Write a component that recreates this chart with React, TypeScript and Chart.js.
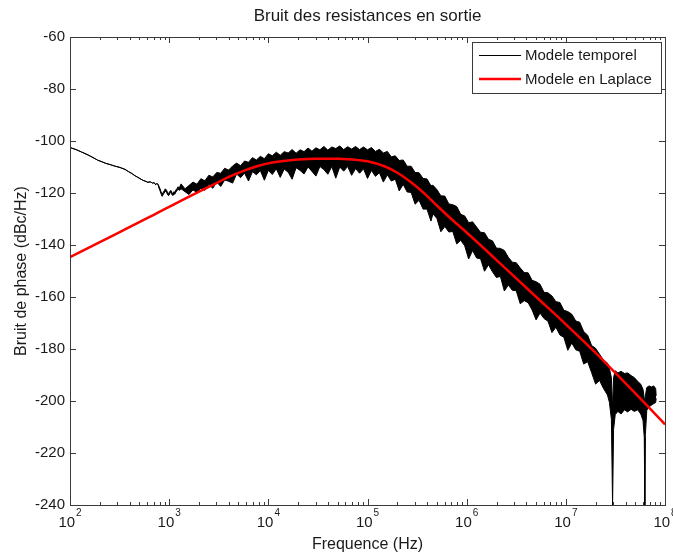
import React, { useEffect, useRef } from 'react';
import { Chart, registerables } from 'chart.js';

Chart.register(...registerables);

const FONT = '"Liberation Sans", Arial, Helvetica, sans-serif';

const chartTitle = 'Bruit des resistances en sortie';
const xAxisTitle = 'Frequence (Hz)';
const yAxisTitle = 'Bruit de phase (dBc/Hz)';
const seriesNames = ['Modele temporel', 'Modele en Laplace'];

const xDecades = [1e2, 1e3, 1e4, 1e5, 1e6, 1e7, 1e8];
const xTickExponents = ['2', '3', '4', '5', '6', '7', '8'];
const yMin = -240;
const yMax = -60;
const yStep = 20;

// "Modele temporel": upper and lower edges of the noisy trace (a thin line where they meet)
const bandFreq = [
  // thin low-frequency part
  100, 115, 130, 145, 160, 175, 191, 210, 230, 255, 280, 320, 358, 390, 420, 450, 484, 520, 550, 580,
  610, 645, 680, 705, 730, 750, 770, 790, 810, 830, 850, 870, 890, 915, 940, 965, 990, 1015, 1040, 1065,
  1090, 1115, 1140, 1170, 1200, 1230, 1260,
  // noisy band
  1318, 1445, 1585, 1738, 1905, 2089, 2291, 2512, 2754, 3020, 3311, 3631, 3981, 4365, 4786, 5248, 5754, 6310, 6918, 7586,
  8318, 9120, 10000, 10965, 12023, 13183, 14454, 15849, 17378, 19055, 20893, 22909, 25119, 27542, 30200, 33113, 36308, 39811, 43652, 47863,
  52481, 57544, 63096, 69183, 75858, 83176, 91201, 100000, 109648, 120226, 131826, 144544, 158489, 173780, 190546, 208930, 229087, 251189, 275423, 301995,
  331131, 363078, 398107, 436516, 457088, 501000, 549500, 602600, 660700, 724400, 794300, 871000, 955000, 1047000, 1148000, 1259000, 1380000, 1514000, 1660000, 1820000,
  1995000, 2188000, 2399000, 2630000, 2884000, 3162000, 3467000, 3802000, 4169000, 4571000, 5012000, 5495000, 6026000, 6607000, 7244000, 7943000, 8710000, 9550000, 1.047e7, 1.148e7,
  1.259e7, 1.38e7, 1.514e7, 1.66e7, 1.82e7, 1.995e7, 2.188e7, 2.399e7, 2.63e7, 2.75e7, 2.88e7, 2.96e7, 3.03e7, 3.15e7, 3.35e7, 3.6e7, 3.9e7, 4.2e7, 4.55e7, 4.9e7,
  5.3e7, 5.7e7, 6.0e7, 6.18e7, 6.26e7, 6.34e7, 6.55e7, 6.9e7, 7.3e7, 7.7e7, 8.05e7, 8.15e7,
];
const bandUpper = [
  -102.5, -103.3, -104.2, -105, -105.8, -106.6, -107.4, -108, -108.6, -109.1, -109.6, -110.2, -110.9, -111.8, -112.5, -113.3, -114, -114.7, -115.2, -115.5,
  -115.9, -115.7, -116.2, -116, -116.8, -116.4, -116.6, -117.4, -118.4, -119.6, -120.5, -119.8, -119.2, -118.4, -118.9, -119.9, -120.2, -119.4, -119, -119.8,
  -120.2, -119.5, -119.7, -118.8, -118.3, -117.6, -118.2,
  -116.5, -118.4, -117.1, -115.8, -116.6, -114.5, -115.3, -113.2, -113.8, -112.1, -112.4, -110.5, -111.2, -109.6, -108.5, -109.5, -107.7, -108.2, -106.4, -107.3,
  -105.9, -106.8, -104.9, -105.7, -104.3, -105.5, -104.1, -104.6, -103.3, -104.7, -103.4, -104.1, -102.7, -103.9, -102.6, -103.4, -102.1, -103.5, -102.3, -102.9,
  -101.9, -103.3, -102.2, -103.1, -102.1, -103.3, -102.3, -103.4, -102.5, -104, -103.2, -104.6, -104, -106.1, -105.7, -107.5, -107.3, -109.7, -109.7, -112.1,
  -112.2, -114.4, -114.6, -117.2, -117, -118.7, -121.1, -121.2, -124.2, -124.5, -125.2, -128.2, -128.8, -131.4, -131.1, -133.1, -135.1, -135.3, -137.8, -138.4,
  -141.2, -141.3, -142.1, -144.7, -146.6, -146.8, -148.8, -150.6, -150.7, -153.6, -154.1, -155.1, -158.2, -158.4, -159.6, -161.8, -162.1, -165.1, -165.6, -166.6,
  -169.2, -169.7, -173.3, -174.7, -178.7, -179.7, -182, -184.3, -185.4, -187.5, -191, -203, -191, -188.4, -189.2, -188.6, -189.4, -189.2, -190.2, -191,
  -192.4, -193.6, -195.5, -199, -206, -198, -194.8, -194.2, -194.6, -194.2, -195.2, -198,
];
const bandLower = [
  -102.5, -103.3, -104.2, -105, -105.8, -106.6, -107.4, -108, -108.6, -109.1, -109.6, -110.2, -110.9, -111.8, -112.5, -113.3, -114, -114.7, -115.2, -115.5,
  -115.9, -115.7, -116.2, -116, -116.8, -116.4, -116.6, -118.2, -119.2, -120.4, -121.3, -120.6, -120, -119.2, -119.7, -120.7, -121, -120.2, -119.8, -120.6,
  -121, -120.3, -120.5, -119.6, -119.1, -118.4, -119,
  -118.4, -119.5, -120.6, -118.8, -119.8, -118.1, -119, -116.7, -118.2, -115.8, -117.5, -115, -115.5, -116.2, -112.7, -114.1, -112.3, -115.4, -111.8, -113,
  -111.4, -115.1, -111.3, -112.9, -110.7, -114, -110.8, -112, -114.7, -110.3, -111.3, -112.7, -110, -111.7, -113.5, -109.8, -111, -112.8, -109.8, -114.3,
  -110, -111.6, -109.8, -113.2, -110.6, -112.4, -110.7, -114.4, -111.3, -113.6, -112.2, -115.8, -113, -115.4, -114.7, -119.2, -116.7, -119.6, -119.8, -124.3,
  -122.8, -126.2, -126.2, -130.8, -128, -129.8, -134.9, -132.9, -135, -134.8, -139.6, -138.2, -140.3, -145.4, -142.1, -145, -145.3, -150.1, -147.6, -150.3,
  -152.5, -152.1, -157.7, -155.4, -157.4, -157.6, -162.6, -161.4, -162.2, -165, -168.8, -166.2, -168.3, -169.3, -173.7, -171.6, -174.6, -175.5, -180.5, -177.7,
  -180.3, -180.9, -185.8, -184.9, -189.1, -193.5, -192.1, -195.2, -197.7, -200.5, -207, -240, -211, -205.2, -204, -205, -203.4, -204.2, -203.2, -204,
  -203.4, -205, -207.5, -214, -240, -213, -203.6, -202.2, -201.6, -201, -200.6, -199,
];

// "Modele en Laplace"
const laplaceFreq = [
  100, 200, 300, 500, 700, 1000, 1500, 2000, 3000, 4000, 5800, 8000, 1e4, 1.5e4, 2e4, 3e4, 5e4, 7e4, 1e5, 1.5e5,
  2e5, 3e5, 4e5, 5e5, 7e5, 1e6, 2e6, 5e6, 1e7, 2e7, 3e7, 5e7, 1e8,
];
const laplaceValues = [
  -144.7, -138.9, -135.5, -131.2, -128.4, -125.3, -121.9, -119.5, -116.2, -113.8, -111.3, -109.5, -108.6, -107.6, -107.1, -106.8, -106.8, -107.1, -107.8, -109.8,
  -112.2, -117, -121.2, -124.8, -130, -135.2, -145.8, -159.9, -170.5, -181.5, -188.3, -197, -209,
];

const AXIS_COLOR = '#3a3a3a';
const TEXT_COLOR = '#1a1a1a';

const decorPlugin = {
  id: 'matlabDecor',
  afterDraw(chart: any) {
    const ctx = chart.ctx as CanvasRenderingContext2D;
    const { left, right, top, bottom } = chart.chartArea;
    const xs = chart.scales.x;
    const ys = chart.scales.y;
    ctx.save();
    // frame
    ctx.strokeStyle = AXIS_COLOR;
    ctx.lineWidth = 1;
    ctx.strokeRect(Math.round(left) + 0.5, Math.round(top) + 0.5, Math.round(right - left), Math.round(bottom - top));
    // x ticks (inward, top and bottom)
    ctx.beginPath();
    for (const d of xDecades) {
      for (let m = 1; m <= 9; m++) {
        const v = d * m;
        if (v > xDecades[xDecades.length - 1]) break;
        const px = Math.round(xs.getPixelForValue(v)) + 0.5;
        const len = m === 1 ? 6 : 3;
        ctx.moveTo(px, bottom);
        ctx.lineTo(px, bottom - len);
        ctx.moveTo(px, top);
        ctx.lineTo(px, top + len);
      }
    }
    // y ticks (inward, left and right)
    for (const t of ys.ticks) {
      const py = Math.round(ys.getPixelForValue(t.value)) + 0.5;
      ctx.moveTo(left, py);
      ctx.lineTo(left + 6, py);
      ctx.moveTo(right, py);
      ctx.lineTo(right - 6, py);
    }
    ctx.stroke();

    // x tick labels 10^n
    ctx.fillStyle = TEXT_COLOR;
    ctx.textBaseline = 'alphabetic';
    ctx.textAlign = 'left';
    xDecades.forEach((d, i) => {
      const px = xs.getPixelForValue(d);
      ctx.font = `15px ${FONT}`;
      const w1 = ctx.measureText('10').width;
      ctx.font = `10px ${FONT}`;
      const w2 = ctx.measureText(xTickExponents[i]).width;
      const start = px - (w1 + w2 + 1) / 2;
      ctx.font = `15px ${FONT}`;
      ctx.fillText('10', start, bottom + 22);
      ctx.font = `10px ${FONT}`;
      ctx.fillText(xTickExponents[i], start + w1 + 1, bottom + 11);
    });

    // title
    ctx.textAlign = 'center';
    ctx.textBaseline = 'middle';
    ctx.font = `17px ${FONT}`;
    ctx.fillText(chartTitle, (left + right) / 2, 16);
    // x axis title
    ctx.font = `16px ${FONT}`;
    ctx.fillText(xAxisTitle, (left + right) / 2, 545);
    // y axis title
    ctx.save();
    ctx.translate(22, (top + bottom) / 2);
    ctx.rotate(-Math.PI / 2);
    ctx.fillText(yAxisTitle, 0, 0);
    ctx.restore();

    // legend
    const bx = 472.5, by = 42.5, bw = 189, bh = 51;
    ctx.fillStyle = '#ffffff';
    ctx.fillRect(bx, by, bw, bh);
    ctx.strokeStyle = AXIS_COLOR;
    ctx.lineWidth = 1;
    ctx.strokeRect(bx, by, bw, bh);
    ctx.beginPath();
    ctx.strokeStyle = '#000000';
    ctx.lineWidth = 1;
    ctx.moveTo(479, 55.5);
    ctx.lineTo(521, 55.5);
    ctx.stroke();
    ctx.beginPath();
    ctx.strokeStyle = '#ff0000';
    ctx.lineWidth = 2.5;
    ctx.moveTo(479, 79);
    ctx.lineTo(521, 79);
    ctx.stroke();
    ctx.fillStyle = TEXT_COLOR;
    ctx.textAlign = 'left';
    ctx.textBaseline = 'middle';
    ctx.font = `15px ${FONT}`;
    ctx.fillText(seriesNames[0], 525, 56);
    ctx.fillText(seriesNames[1], 525, 80);
    ctx.restore();
  },
};

export default function App() {
  const canvasRef = useRef<HTMLCanvasElement | null>(null);

  useEffect(() => {
    document.body.style.margin = '0';
    const canvas = canvasRef.current;
    if (!canvas) return;
    const upper = bandFreq.map((f, i) => ({ x: f, y: bandUpper[i] }));
    const lower = bandFreq.map((f, i) => ({ x: f, y: bandLower[i] }));
    const laplace = laplaceFreq.map((f, i) => ({ x: f, y: laplaceValues[i] }));

    const chart = new Chart(canvas, {
      type: 'line',
      data: {
        datasets: [
          {
            label: seriesNames[0],
            data: upper,
            borderColor: '#000000',
            backgroundColor: '#000000',
            borderWidth: 1,
            pointRadius: 0,
            fill: '+1',
            tension: 0,
            order: 1,
          },
          {
            label: seriesNames[0] + ' (min)',
            data: lower,
            borderColor: '#000000',
            backgroundColor: '#000000',
            borderWidth: 1,
            pointRadius: 0,
            fill: false,
            tension: 0,
            order: 2,
          },
          {
            label: seriesNames[1],
            data: laplace,
            borderColor: '#ff0000',
            backgroundColor: '#ff0000',
            borderWidth: 2.5,
            pointRadius: 0,
            fill: false,
            cubicInterpolationMode: 'monotone',
            order: 0,
          },
        ],
      },
      options: {
        responsive: false,
        animation: false,
        devicePixelRatio: 1,
        layout: { padding: { top: 37, right: 8, left: 0, bottom: 0 } },
        plugins: {
          legend: { display: false },
          title: { display: false },
          tooltip: { enabled: false },
        },
        scales: {
          x: {
            type: 'logarithmic',
            min: xDecades[0],
            max: xDecades[xDecades.length - 1],
            grid: { display: false, drawTicks: false },
            border: { display: false },
            ticks: { display: false },
            afterFit: (scale: any) => {
              scale.height = 50;
            },
          },
          y: {
            type: 'linear',
            min: yMin,
            max: yMax,
            grid: { display: false, drawTicks: false },
            border: { display: false },
            ticks: {
              stepSize: yStep,
              padding: 5,
              color: TEXT_COLOR,
              font: { family: FONT, size: 15 },
            },
            afterFit: (scale: any) => {
              scale.width = 70;
            },
          },
        },
      },
      plugins: [decorPlugin],
    });
    return () => chart.destroy();
  }, []);

  return (
    <div style={{ width: 673, height: 555, background: '#ffffff' }}>
      <canvas ref={canvasRef} width={673} height={555} style={{ display: 'block' }} />
    </div>
  );
}
